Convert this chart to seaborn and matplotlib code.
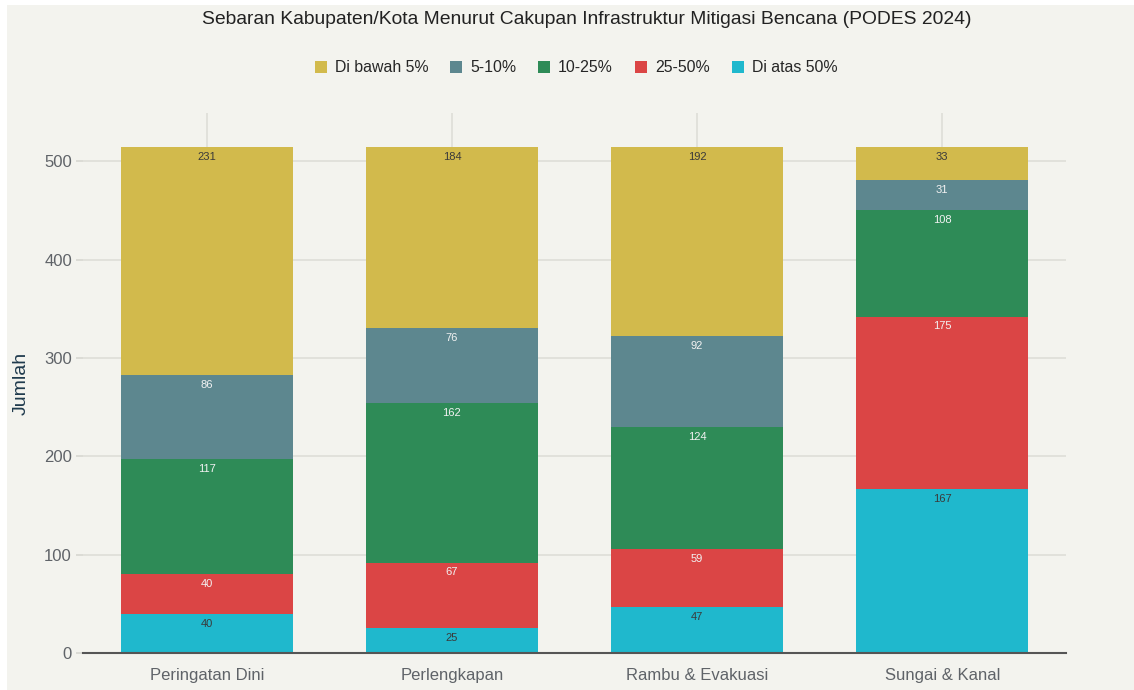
import matplotlib.pyplot as plt
import numpy as np
import seaborn as sns
from matplotlib.patches import Patch, Rectangle

categories = ["Peringatan Dini", "Perlengkapan", "Rambu & Evakuasi", "Sungai & Kanal"]
series_names = ["Di atas 50%", "25-50%", "10-25%", "5-10%", "Di bawah 5%"]
di_atas_50 = [40, 25, 47, 167]
p25_50 = [40, 67, 59, 175]
p10_25 = [117, 162, 124, 108]
p5_10 = [86, 76, 92, 31]
di_bawah_5 = [231, 184, 192, 33]

series_values = [di_atas_50, p25_50, p10_25, p5_10, di_bawah_5]
colors = ["#1FB8CD", "#DB4545", "#2E8B57", "#5D878F", "#D2BA4C"]
label_colors = ["#3a3a3a", "#f2f2f2", "#f2f2f2", "#f2f2f2", "#3a3a3a"]
legend_order = ["Di bawah 5%", "5-10%", "10-25%", "25-50%", "Di atas 50%"]

BG = "#F3F3EE"

sns.set_theme(style="white")
plt.rcParams["font.family"] = ["Liberation Sans", "DejaVu Sans"]

fig = plt.figure(figsize=(11.34, 6.9), dpi=100, facecolor="white")
fig.patches.append(
    Rectangle((7 / 1134, 0), 1, 1 - 5 / 690, transform=fig.transFigure,
              facecolor=BG, edgecolor="none", zorder=-10)
)
ax = fig.add_axes([83 / 1134, 37 / 690, (1066 - 83) / 1134, (653 - 113) / 690])
ax.set_facecolor(BG)

x = np.arange(len(categories))
bottoms = np.zeros(len(categories))
for name, vals, col, lcol in zip(series_names, series_values, colors, label_colors):
    vals = np.array(vals, dtype=float)
    sns.barplot(x=x, y=vals, bottom=bottoms, color=col, width=0.7, saturation=1,
                edgecolor="none", linewidth=0, native_scale=True, ax=ax, zorder=3)
    for xi, b, v in zip(x, bottoms, vals):
        ax.annotate(f"{int(v)}", (xi, b + v), xytext=(0, -3.5), textcoords="offset points",
                    ha="center", va="top", fontsize=8, color=lcol, zorder=5)
    bottoms = bottoms + vals

ax.set_xlim(-0.505, 3.505)
ax.set_ylim(0, 549)
ax.set_xticks(x, categories)
ax.set_yticks([0, 100, 200, 300, 400, 500])
ax.tick_params(axis="x", length=5, color="#d8d8d2", labelsize=12, labelcolor="#5f6368", pad=6)
ax.tick_params(axis="y", length=5, color="#d8d8d2", labelsize=12, labelcolor="#5f6368", pad=3, left=True)
ax.grid(axis="y", color="#dcdcd6", linewidth=1.1, zorder=0)
ax.grid(axis="x", color="#dcdcd6", linewidth=1.1, zorder=0)
ax.set_axisbelow(True)
for side in ["top", "right", "left"]:
    ax.spines[side].set_visible(False)
ax.spines["bottom"].set_color("#555555")
ax.spines["bottom"].set_linewidth(1.5)
ax.spines["bottom"].set_zorder(4)

ax.set_xlabel("")
ax.set_ylabel("Jumlah", fontsize=14, color="#1f3a4d", labelpad=10)

fig.suptitle("Sebaran Kabupaten/Kota Menurut Cakupan Infrastruktur Mitigasi Bencana (PODES 2024)",
             x=0.517, y=0.984, fontsize=13.9, color="#222222")

handles = [Patch(facecolor=colors[series_names.index(n)], edgecolor="none", label=n) for n in legend_order]
fig.legend(handles=handles, loc="center", bbox_to_anchor=(0.508, 1 - 68 / 690), ncol=5,
           frameon=False, fontsize=11.4, handlelength=0.75, handleheight=0.75,
           handletextpad=0.5, columnspacing=1.4)

fig.savefig("out.png", dpi=100, facecolor=fig.get_facecolor())
